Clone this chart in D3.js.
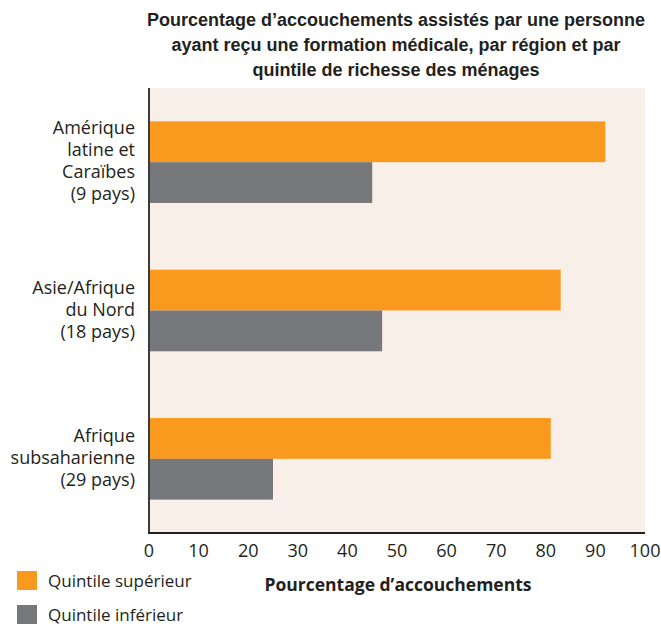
<!DOCTYPE html>
<html>
<head>
<meta charset="utf-8">
<script src="https://cdn.jsdelivr.net/npm/d3@7"></script>
<style>
  body { margin: 0; background: #fff; }
  text { fill: #231f20; }
</style>
</head>
<body>
<div id="chart"></div>
<script>
var regions = ["Amérique latine et Caraïbes (9 pays)", "Asie/Afrique du Nord (18 pays)", "Afrique subsaharienne (29 pays)"];
var regionLines = [["Amérique", "latine et", "Caraïbes", "(9 pays)"], ["Asie/Afrique", "du Nord", "(18 pays)"], ["Afrique", "subsaharienne", "(29 pays)"]];
var series = ["Quintile supérieur", "Quintile inférieur"];
var topQuintile = [92, 83, 81];
var bottomQuintile = [45, 47, 25];
var xTicks = [0, 10, 20, 30, 40, 50, 60, 70, 80, 90, 100];
var titleLines = ["Pourcentage d\u2019accouchements assistés par une personne", "ayant reçu une formation médicale, par région et par", "quintile de richesse des ménages"];
var xTitle = "Pourcentage d\u2019accouchements";
var colors = ["#f99a1e", "#77787b"];

var width = 661, height = 627;
var margin = {top: 88, left: 149, right: 16, bottom: 94};

var svg = d3.select("#chart").append("svg")
  .attr("width", width)
  .attr("height", height)
  .style("font-family", "'Open Sans', sans-serif");

var x = d3.scaleLinear().domain([0, 100]).range([margin.left, width - margin.right]);
var y = d3.scaleBand().domain(regions).range([margin.top, height - margin.bottom])
  .paddingInner(0.45).paddingOuter(0.225);
var ySub = d3.scaleBand().domain(series).range([0, y.bandwidth()]);

// plot background
svg.append("rect")
  .attr("x", x(0)).attr("y", margin.top)
  .attr("width", x(100) - x(0)).attr("height", height - margin.bottom - margin.top)
  .style("fill", "#f7efe8");

var data = regions.map(function(r, i) {
  return {region: r, values: [topQuintile[i], bottomQuintile[i]]};
});

var groups = svg.selectAll("g.region")
  .data(data)
  .enter().append("g")
  .attr("class", "region")
  .attr("transform", function(d) { return "translate(0," + y(d.region) + ")"; });

groups.selectAll("rect")
  .data(function(d) { return d.values.map(function(v, j) { return {s: series[j], v: v, j: j}; }); })
  .enter().append("rect")
  .attr("x", x(0))
  .attr("y", function(d) { return ySub(d.s); })
  .attr("width", function(d) { return x(d.v) - x(0); })
  .attr("height", ySub.bandwidth())
  .style("fill", function(d) { return colors[d.j]; });

// region labels
groups.each(function(d, i) {
  var lines = regionLines[i];
  var lh = 22;
  var cy = y.bandwidth() / 2 - 1;
  var t = d3.select(this).append("text")
    .attr("text-anchor", "end")
    .style("font-size", "18px");
  lines.forEach(function(l, k) {
    t.append("tspan")
      .attr("x", 135)
      .attr("y", cy + (k - (lines.length - 1) / 2) * lh)
      .attr("dy", "0.35em")
      .text(l);
  });
});

// axes lines
svg.append("line")
  .attr("x1", x(0)).attr("x2", x(0))
  .attr("y1", margin.top).attr("y2", height - margin.bottom)
  .style("stroke", "#3a3a3a").style("stroke-width", 2);
svg.append("line")
  .attr("x1", x(0) - 1).attr("x2", x(100))
  .attr("y1", height - margin.bottom).attr("y2", height - margin.bottom)
  .style("stroke", "#231f20").style("stroke-width", 2);

// x tick labels
svg.selectAll("text.tick")
  .data(xTicks)
  .enter().append("text")
  .attr("class", "tick")
  .attr("x", function(d) { return x(d); })
  .attr("y", 551)
  .attr("dy", "0.35em")
  .attr("text-anchor", "middle")
  .style("font-size", "18px")
  .text(function(d) { return d; });

// x title
svg.append("text")
  .attr("x", 398).attr("y", 585).attr("dy", "0.35em")
  .attr("text-anchor", "middle")
  .style("font-size", "17.5px")
  .style("font-weight", "bold")
  .text(xTitle);

// title
svg.append("g").selectAll("text")
  .data(titleLines)
  .enter().append("text")
  .attr("x", 396)
  .attr("y", function(d, i) { return 20 + i * 25; })
  .attr("dy", "0.35em")
  .attr("text-anchor", "middle")
  .style("font-family", "'Liberation Sans', Arial, sans-serif")
  .style("font-size", "18px")
  .style("font-weight", "bold")
  .text(function(d) { return d; });

// legend
var legend = svg.selectAll("g.legend")
  .data(series)
  .enter().append("g")
  .attr("class", "legend")
  .attr("transform", function(d, i) { return "translate(17," + (571 + i * 34) + ")"; });
legend.append("rect")
  .attr("width", 20).attr("height", 19)
  .style("fill", function(d, i) { return colors[i]; });
legend.append("text")
  .attr("x", 31).attr("y", 10).attr("dy", "0.35em")
  .style("font-size", "17px")
  .text(function(d) { return d; });
</script>
</body>
</html>
